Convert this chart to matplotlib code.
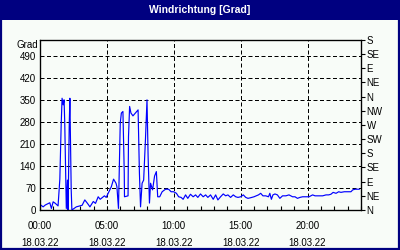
import numpy as np
import matplotlib.pyplot as plt
from matplotlib.patches import Rectangle

# minutes after midnight (18.03.22) and wind direction in degrees
minutes = [3, 14, 24, 33, 44, 51, 59, 69, 81, 89, 95, 99, 104, 108, 111, 116, 118,
           123, 126, 131, 134, 136, 140, 143, 153, 163, 179, 189, 201, 213, 224,
           239, 249, 261, 270, 280, 289, 297, 307, 320, 330, 341, 345, 352, 360,
           365, 372, 378, 379, 395, 397, 402, 408, 417, 428, 440, 446, 451, 458,
           465, 473, 480, 485, 491, 496, 505, 514, 522, 528, 537, 548, 563, 577,
           588, 600, 612, 622, 633, 642, 653, 663, 675, 687, 698, 708, 720, 732,
           743, 753, 765, 777, 788, 798, 810, 822, 833, 843, 855, 867, 878, 888,
           900, 912, 923, 933, 945, 960, 980, 990, 1000, 1013, 1025, 1031, 1038,
           1045, 1054, 1065, 1076, 1088, 1103, 1117, 1133, 1144, 1155, 1166, 1178,
           1193, 1207, 1223, 1234, 1252, 1268, 1283, 1295, 1305, 1315, 1328, 1340,
           1350, 1365, 1380, 1395, 1403, 1414, 1432]
grad = [16, 10, 16, 19, 23, 5, 26, 21, 13, 98, 270, 355, 334, 350, 277, 86, 5,
        95, 0, 265, 355, 261, 64, 0, 5, 10, 13, 15, 32, 21, 10,
        27, 21, 42, 34, 40, 45, 40, 55, 74, 98, 85, 74, 5, 276,
        308, 313, 118, 42, 45, 233, 329, 308, 299, 308, 318, 117, 10, 85,
        95, 223, 350, 170, 22, 85, 64, 108, 122, 42, 42, 58, 66, 66,
        58, 58, 53, 42, 40, 34, 48, 37, 50, 42, 48, 40, 51, 42,
        48, 40, 48, 34, 48, 32, 42, 51, 45, 48, 40, 48, 42, 40,
        42, 48, 40, 37, 39, 42, 48, 53, 45, 45, 42, 53, 34,
        48, 51, 48, 37, 45, 45, 48, 42, 42, 37, 40, 42,
        42, 42, 48, 45, 45, 45, 48, 48, 50, 56, 53, 58,
        56, 58, 58, 58, 64, 66, 66]

left_ticks = [0, 70, 140, 210, 280, 350, 420, 490]
compass = ["N", "NE", "E", "SE", "S", "SW", "W", "NW", "N", "NE", "E", "SE", "S"]
hour_ticks = [0, 5, 10, 15, 20]
hour_labels = ["00:00\n18.03.22", "05:00\n18.03.22", "10:00\n18.03.22",
               "15:00\n18.03.22", "20:00\n18.03.22"]

navy = "#000080"
bg = "#f8fcf8"
plt.rcParams["font.family"] = ["Liberation Sans", "DejaVu Sans"]
plt.rcParams["font.size"] = 7

fig = plt.figure(figsize=(4, 2.5), dpi=100, facecolor=bg)

# title bar and outer frame
fig.patches.append(Rectangle((0, 0.92), 1, 0.08, transform=fig.transFigure,
                             facecolor=navy, edgecolor="none", zorder=0))
fig.patches.append(Rectangle((0.0025, 0.004), 0.994, 0.992, transform=fig.transFigure,
                             facecolor="none", edgecolor=navy, linewidth=1.6, zorder=5))
fig.text(0.5, 0.96, "Windrichtung [Grad]", color="white", fontsize=7.5,
         fontweight="bold", ha="center", va="center")

ax = fig.add_axes([0.1, 0.16, 0.8025, 0.68])
ax.set_facecolor(bg)
ax.plot(np.array(minutes) / 60.0, grad, color="#0000ff", linewidth=0.85, zorder=3)

ax.set_xlim(0, 24)
ax.set_ylim(0, 540)
ax.set_yticks(left_ticks)
ax.tick_params(axis="y", length=0, pad=3, labelsize=7)
ax.set_xticks(hour_ticks)
ax.set_xticklabels(hour_labels, linespacing=1.85)
ax.set_xticks(range(0, 25), minor=True)
ax.tick_params(axis="x", which="both", direction="in", length=3, width=0.8, pad=8, labelsize=7)

for v in left_ticks[1:]:
    ax.axhline(v, color="black", linewidth=0.72, linestyle=(0, (4, 2.5)), zorder=1)
for h in hour_ticks[1:]:
    ax.axvline(h, color="black", linewidth=0.72, linestyle=(0, (4, 2.5)), zorder=1)

for s in ax.spines.values():
    s.set_linewidth(0.9)
    s.set_color("black")

ax.text(-0.005, 1.0, "Grad", transform=ax.transAxes, ha="right", va="top", fontsize=7)

ax2 = ax.twinx()
ax2.set_ylim(0, 540)
ax2.set_yticks(range(0, 541, 45))
ax2.set_yticklabels(compass)
ax2.tick_params(axis="y", direction="out", length=3, width=0.8, pad=1, labelsize=7)

fig.savefig("out.png", dpi=100, facecolor=bg)
